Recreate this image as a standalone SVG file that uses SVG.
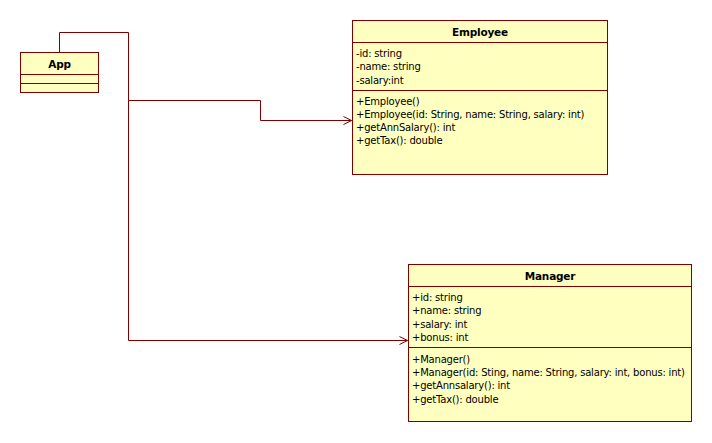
<svg xmlns="http://www.w3.org/2000/svg" width="712" height="443" viewBox="0 0 712 443">
  <style>
    .box { fill: #FFFFC0; stroke: #800000; stroke-width: 1; }
    .sep { stroke: #800000; stroke-width: 1; }
    .title { font-family: "DejaVu Sans", Verdana, sans-serif; font-size: 10.5px; font-weight: bold; letter-spacing: -0.2px; fill: #000; text-anchor: middle; }
    .member { font-family: "DejaVu Sans", Verdana, sans-serif; font-size: 10px; letter-spacing: -0.2px; fill: #000; }
    .conn { fill: none; stroke: #800000; stroke-width: 1; }
  </style>
  <defs>
    <marker id="open" markerWidth="10" markerHeight="10" refX="9" refY="5" orient="auto" markerUnits="userSpaceOnUse">
      <path d="M1,1 L9,5 L1,9" fill="none" stroke="#800000" stroke-width="1"/>
    </marker>
  </defs>
  <rect width="712" height="443" fill="#FFFFFF"/>

  <g id="connectors">
    <path class="conn" d="M59.5,52.5 V32.5 H128.5 V100.5 H260.5 V120.5 H351.5" marker-end="url(#open)"/>
    <path class="conn" d="M128.5,100.5 V340.5 H407.5" marker-end="url(#open)"/>
  </g>

  <g id="App">
    <rect class="box" x="20.5" y="52.5" width="78" height="40"/>
    <line class="sep" x1="20.5" y1="74.5" x2="98.5" y2="74.5"/>
    <line class="sep" x1="20.5" y1="83.5" x2="98.5" y2="83.5"/>
    <text class="title" x="59.5" y="67.5">App</text>
  </g>

  <g id="Employee">
    <rect class="box" x="352.5" y="20.5" width="255" height="154"/>
    <line class="sep" x1="352.5" y1="42.5" x2="607.5" y2="42.5"/>
    <line class="sep" x1="352.5" y1="90.5" x2="607.5" y2="90.5"/>
    <text class="title" x="480" y="35.5">Employee</text>
    <text class="member" x="356" y="57">-id: string</text>
    <text class="member" x="356" y="70.3">-name: string</text>
    <text class="member" x="356" y="83.6">-salary:int</text>
    <text class="member" x="356" y="104.5">+Employee()</text>
    <text class="member" x="356" y="117.8">+Employee(id: String, name: String, salary: int)</text>
    <text class="member" x="356" y="131.1">+getAnnSalary(): int</text>
    <text class="member" x="356" y="144.4">+getTax(): double</text>
  </g>

  <g id="Manager">
    <rect class="box" x="408.5" y="264.5" width="283" height="157"/>
    <line class="sep" x1="408.5" y1="286.5" x2="691.5" y2="286.5"/>
    <line class="sep" x1="408.5" y1="347.5" x2="691.5" y2="347.5"/>
    <text class="title" x="550" y="279.5">Manager</text>
    <text class="member" x="412" y="301">+id: string</text>
    <text class="member" x="412" y="314.3">+name: string</text>
    <text class="member" x="412" y="327.6">+salary: int</text>
    <text class="member" x="412" y="340.9">+bonus: int</text>
    <text class="member" x="412" y="362.7">+Manager()</text>
    <text class="member" x="412" y="376">+Manager(id: Sting, name: String, salary: int, bonus: int)</text>
    <text class="member" x="412" y="389.3">+getAnnsalary(): int</text>
    <text class="member" x="412" y="402.6">+getTax(): double</text>
  </g>
</svg>
